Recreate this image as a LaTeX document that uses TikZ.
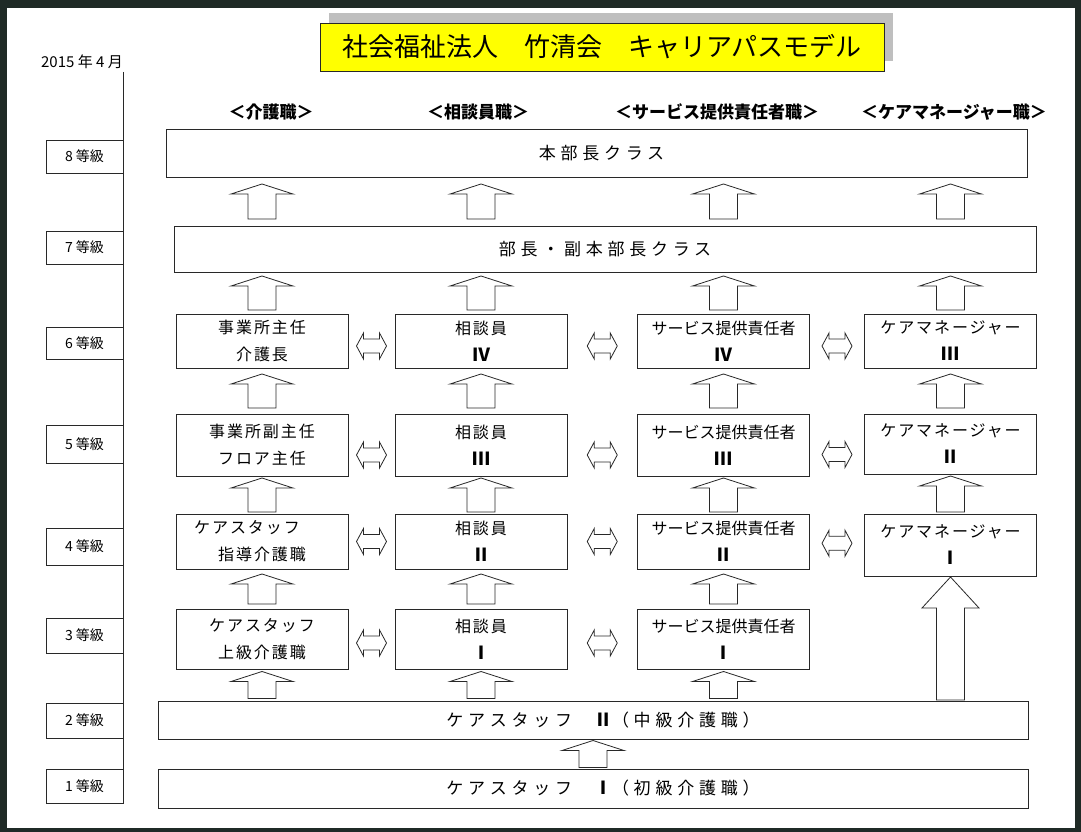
\documentclass[tikz,border=0pt]{standalone}
\usepackage{fontspec}
\setmainfont{Noto Sans CJK JP}
\usetikzlibrary{calc,positioning,shadows}
\definecolor{framedark}{RGB}{31,42,38}
\definecolor{boxline}{RGB}{40,40,40}
\definecolor{titleyellow}{RGB}{255,255,0}
\newcommand{\rnum}[1]{{\fontsize{18}{27}\selectfont\bfseries #1}}

\begin{document}
\begin{tikzpicture}[x=1pt, y=-1pt,
    grade/.style={rectangle, draw=boxline, line width=0.9pt, fill=white, minimum width=77pt, inner sep=0pt, font=\fontsize{14}{16}\selectfont},
    post/.style={rectangle, draw=boxline, line width=1pt, fill=white, minimum width=172pt, inner sep=0pt, align=center, font=\fontsize{16}{27}\selectfont\addfontfeature{LetterSpace=12}},
    postnarrow/.style={post, font=\fontsize{16}{27}\selectfont},
    band/.style={rectangle, draw=boxline, line width=1pt, fill=white, inner sep=0pt, font=\fontsize{17}{20}\selectfont\addfontfeature{LetterSpace=28}},
    header/.style={font=\fontsize{17}{20}\selectfont\bfseries},
    titlebox/.style={rectangle, draw=boxline, line width=0.8pt, fill=titleyellow, minimum width=564pt, minimum height=48pt, inner sep=0pt, font=\fontsize{26}{30}\selectfont,
        drop shadow={shadow xshift=9pt, shadow yshift=10pt, fill=black!25, opacity=1}},
    blockup/.style n args={3}{draw=boxline, line width=0.8pt, fill=white, to path={
        let \p1=(\tikztostart), \p2=(\tikztotarget) in
        (\x1-14pt,\y1+#3) -- (\x1-14pt,\y2-#3-#2) -- (\x1-#1,\y2-#3-#2) -- (\x1,\y2-#3)
        -- (\x1+#1,\y2-#3-#2) -- (\x1+14pt,\y2-#3-#2) -- (\x1+14pt,\y1+#3) -- cycle}},
    uparr/.style={blockup={31pt}{10pt}{#1}},
    uparr/.default=3pt,
    bigarr/.style={blockup={28.5pt}{31pt}{0.5pt}},
    dblarr/.style={draw=boxline, line width=0.8pt, fill=white, to path={
        let \p1=(\tikztostart), \p2=(\tikztotarget), \p3=($(\p1)!0.5!(\p2)$) in
        (\x3-15pt,\y3) -- (\x3-8pt,\y3+13pt) -- (\x3-8pt,\y3+7pt) -- (\x3+8pt,\y3+7pt)
        -- (\x3+8pt,\y3+13pt) -- (\x3+15pt,\y3) -- (\x3+8pt,\y3-13pt) -- (\x3+8pt,\y3-7pt)
        -- (\x3-8pt,\y3-7pt) -- (\x3-8pt,\y3-13pt) -- cycle}}
]

% Frame
\useasboundingbox (0,0) rectangle (1081,832);
\fill[framedark] (0,0) rectangle (1081,832);
\fill[white] (7,8) rectangle (1075,828);

% Title and date
\node[titlebox] (title) at (602,47) {社会福祉法人　竹清会　キャリアパスモデル};
\node[font=\fontsize{15}{17}\selectfont] (date) at (82,62) {2015 年 4 月};

% Grade axis
\coordinate (axtop) at (123,72);
\coordinate (axbot) at (123,803.5);
\draw[boxline, line width=1pt] (axtop) -- (axbot);
\foreach \g/\y/\h in {8/156.5/33pt, 7/247.5/33pt, 6/343/32pt, 5/444/38pt, 4/546.5/37pt, 3/635.5/35pt, 2/720.5/35pt, 1/786/34pt}
  \node[grade, minimum height=\h] (grade\g) at (84.5,\y) {\g\ 等級};

% Column headers
\node[header] (hkaigo) at (271,112) {＜介護職＞};
\node[header] (hsoudan) at (478,112) {＜相談員職＞};
\node[header] (hsekinin) at (717,112) {＜サービス提供責任者職＞};
\node[header] (hcmgr) at (954,112) {＜ケアマネージャー職＞};

% Wide levels
\node[band, minimum width=861pt, minimum height=47pt] (honbu) at (596.5,153.5) {\hspace*{10pt}本部長クラス};
\node[band, minimum width=862pt, minimum height=46pt] (bucho) at (605,249) {部長・副本部長クラス};
\node[band, minimum width=870pt, minimum height=38pt] (care2) at (593,720) {\hspace*{20pt}ケアスタッフ　\rnum{Ⅱ}（中級介護職）};
\node[band, minimum width=870pt, minimum height=39pt] (care1) at (593,788.5) {\hspace*{20pt}ケアスタッフ　\rnum{Ⅰ}（初級介護職）};

% Level 6
\node[post, minimum height=54pt] (kaigo6) at (262,341) {事業所主任\\介護長};
\node[post, minimum height=54pt] (soudan6) at (481,341) {相談員\\\rnum{Ⅳ}};
\node[postnarrow, minimum height=54pt] (sekinin6) at (723.5,341) {サービス提供責任者\\\rnum{Ⅳ}};
\node[post, minimum height=54pt] (cmgr6) at (950.5,341) {ケアマネージャー\\\rnum{Ⅲ}};

% Level 5
\node[post, minimum height=62pt] (kaigo5) at (262,445) {事業所副主任\\フロア主任};
\node[post, minimum height=62pt] (soudan5) at (481,445) {相談員\\\rnum{Ⅲ}};
\node[postnarrow, minimum height=62pt] (sekinin5) at (723.5,445) {サービス提供責任者\\\rnum{Ⅲ}};
\node[post, minimum height=60pt] (cmgr5) at (950.5,444) {ケアマネージャー\\\rnum{Ⅱ}};

% Level 4
\node[post, minimum height=55pt] (kaigo4) at (262,541.5) {ケアスタッフ\hspace*{30pt}\\指導介護職};
\node[post, minimum height=55pt] (soudan4) at (481,541.5) {相談員\\\rnum{Ⅱ}};
\node[postnarrow, minimum height=55pt] (sekinin4) at (723.5,541.5) {サービス提供責任者\\\rnum{Ⅱ}};
\node[post, minimum height=62pt] (cmgr4) at (950.5,545) {ケアマネージャー\\\rnum{Ⅰ}};

% Level 3
\node[post, minimum height=60pt] (kaigo3) at (262,639) {ケアスタッフ\\上級介護職};
\node[post, minimum height=60pt] (soudan3) at (481,639) {相談員\\\rnum{Ⅰ}};
\node[postnarrow, minimum height=60pt] (sekinin3) at (723.5,639) {サービス提供責任者\\\rnum{Ⅰ}};

% Promotion arrows
\foreach \col in {kaigo,soudan,sekinin,cmgr} {
  \draw[uparr=6.5pt] (bucho.north -| \col6) to (honbu.south);
  \draw[uparr=3.5pt] (\col6.north) to (bucho.south);
  \draw[uparr=5.5pt] (\col5.north) to (\col6.south);
  \draw[uparr=1.5pt] (\col4.north) to (\col5.south);
}
\foreach \col in {kaigo,soudan,sekinin} {
  \draw[uparr=4.5pt] (\col3.north) to (\col4.south);
  \draw[uparr=2pt] (care2.north -| \col3) to (\col3.south);
}
\draw[uparr=1pt] (care1.north) to (care2.south);
\draw[bigarr] (care2.north -| cmgr4) to (cmgr4.south);

% Transfer arrows
\foreach \r/\dy in {6/-5pt, 5/-10pt, 4/0pt} {
  \draw[dblarr] ([yshift=\dy]kaigo\r.east) to ([yshift=\dy]soudan\r.west);
  \draw[dblarr] ([yshift=\dy]soudan\r.east) to ([yshift=\dy]sekinin\r.west);
  \draw[dblarr] ([yshift=\dy]sekinin\r.east) to ([yshift=\dy]cmgr\r.west);
}
\draw[dblarr] ([yshift=-4pt]kaigo3.east) to ([yshift=-4pt]soudan3.west);
\draw[dblarr] ([yshift=-4pt]soudan3.east) to ([yshift=-4pt]sekinin3.west);

\end{tikzpicture}
\end{document}
